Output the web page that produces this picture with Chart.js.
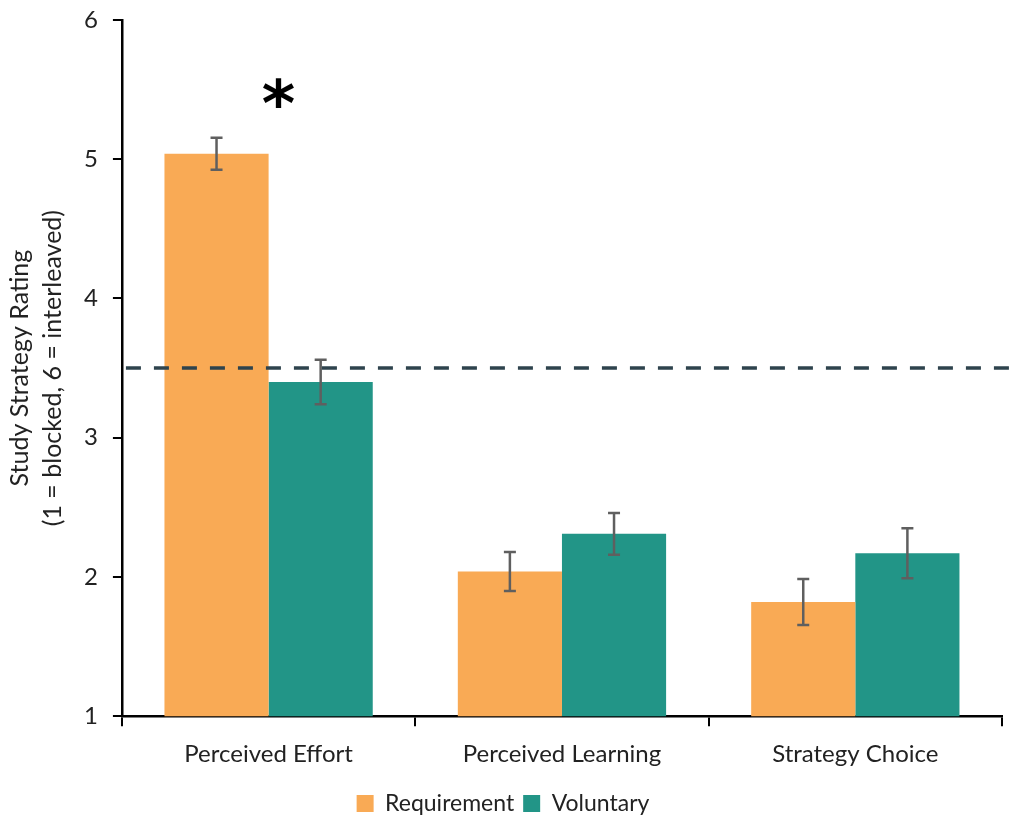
<!DOCTYPE html>
<html>
<head>
<meta charset="utf-8">
<script src="https://cdn.jsdelivr.net/npm/chart.js@4"></script>
<style>
  html, body { margin: 0; padding: 0; background: #ffffff; }
  #wrap { width: 1009px; height: 825px; position: relative; }
</style>
</head>
<body>
<div id="wrap"><canvas id="c" width="1009" height="825"></canvas></div>
<script>
// Mean ratings per measure and condition, with their error bars
const categories = ["Perceived Effort", "Perceived Learning", "Strategy Choice"];
const requirementMeans = [5.04, 2.04, 1.82];
const voluntaryMeans = [3.40, 2.31, 2.17];
const requirementErrors = [0.115, 0.14, 0.165];
const voluntaryErrors = [0.16, 0.15, 0.18];
const yTicks = [1, 2, 3, 4, 5, 6];
const midpointRating = 3.5;
const significanceMarks = ["*", "", ""];

const FONT = "Lato, 'Open Sans', 'DejaVu Sans', sans-serif";

// Error bars with caps, drawn after the bars
const errorBarPlugin = {
  id: "errorBars",
  afterDatasetsDraw(chart) {
    const ctx = chart.ctx;
    const y = chart.scales.y;
    const errs = [requirementErrors, voluntaryErrors];
    ctx.save();
    ctx.strokeStyle = "#5f5f5f";
    ctx.lineWidth = 2.5;
    chart.data.datasets.forEach((ds, di) => {
      const meta = chart.getDatasetMeta(di);
      meta.data.forEach((bar, i) => {
        const v = ds.data[i];
        const e = errs[di][i];
        const x = bar.x;
        const yTop = y.getPixelForValue(v + e);
        const yBot = y.getPixelForValue(v - e);
        ctx.beginPath();
        ctx.moveTo(x, yTop); ctx.lineTo(x, yBot);
        ctx.moveTo(x - 6, yTop); ctx.lineTo(x + 6, yTop);
        ctx.moveTo(x - 6, yBot); ctx.lineTo(x + 6, yBot);
        ctx.stroke();
      });
    });
    ctx.restore();
  }
};

// Dashed reference line at the scale midpoint plus significance markers
const referencePlugin = {
  id: "reference",
  afterDatasetsDraw(chart) {
    const ctx = chart.ctx;
    const y = chart.scales.y;
    const area = chart.chartArea;
    const py = y.getPixelForValue(midpointRating);
    ctx.save();
    ctx.strokeStyle = "#2e434d";
    ctx.lineWidth = 3.5;
    ctx.setLineDash([15, 13]);
    ctx.beginPath();
    ctx.moveTo(area.left + 4, py);
    ctx.lineTo(chart.width, py);
    ctx.stroke();
    ctx.setLineDash([]);

    const metaReq = chart.getDatasetMeta(0);
    const metaVol = chart.getDatasetMeta(1);
    ctx.fillStyle = "#000000";
    ctx.font = "bold 64px 'DejaVu Sans', sans-serif";
    ctx.textAlign = "center";
    ctx.textBaseline = "middle";
    significanceMarks.forEach((m, i) => {
      if (!m) return;
      const bx = (metaReq.data[i].x + metaVol.data[i].x) / 2 + 10;
      const top = Math.max(requirementMeans[i] + requirementErrors[i], voluntaryMeans[i] + voluntaryErrors[i]);
      ctx.fillText(m, bx, y.getPixelForValue(top) - 28);
    });
    ctx.restore();
  }
};

new Chart(document.getElementById("c"), {
  type: "bar",
  data: {
    labels: categories,
    datasets: [
      { label: "Requirement", data: requirementMeans, backgroundColor: "#f9aa55",
        categoryPercentage: 0.71, barPercentage: 1.0 },
      { label: "Voluntary", data: voluntaryMeans, backgroundColor: "#229587",
        categoryPercentage: 0.71, barPercentage: 1.0 }
    ]
  },
  options: {
    responsive: false,
    animation: false,
    devicePixelRatio: 1,
    layout: { padding: { top: 20, right: 7, left: 4, bottom: 0 } },
    plugins: {
      tooltip: { enabled: false },
      legend: {
        position: "bottom",
        labels: {
          font: { family: FONT, size: 23 },
          color: "#222222",
          boxWidth: 17, boxHeight: 17,
          padding: 9,
          useBorderRadius: false
        }
      }
    },
    scales: {
      x: {
        grid: { display: true, drawOnChartArea: false, offset: true, color: "#000000", tickLength: 10, lineWidth: 2 },
        border: { display: true, color: "#000000", width: 2.5 },
        ticks: { font: { family: FONT, size: 24 }, color: "#222222", padding: 14 }
      },
      y: {
        min: 1, max: 6,
        afterBuildTicks(scale) { scale.ticks = yTicks.map(v => ({ value: v })); },
        afterFit(scale) { scale.paddingTop = 0; },
        grid: { display: true, drawOnChartArea: false, color: "#000000", tickLength: 9, lineWidth: 2 },
        border: { display: true, color: "#000000", width: 2.5 },
        ticks: { font: { family: FONT, size: 24 }, color: "#222222", padding: 15 },
        title: {
          display: true,
          text: ["Study Strategy Rating", "(1 = blocked, 6 = interleaved)"],
          font: { family: FONT, size: 25, lineHeight: 1.3 },
          color: "#222222",
          padding: { top: 0, bottom: 0 }
        }
      }
    }
  },
  plugins: [errorBarPlugin, referencePlugin]
});
</script>
</body>
</html>
